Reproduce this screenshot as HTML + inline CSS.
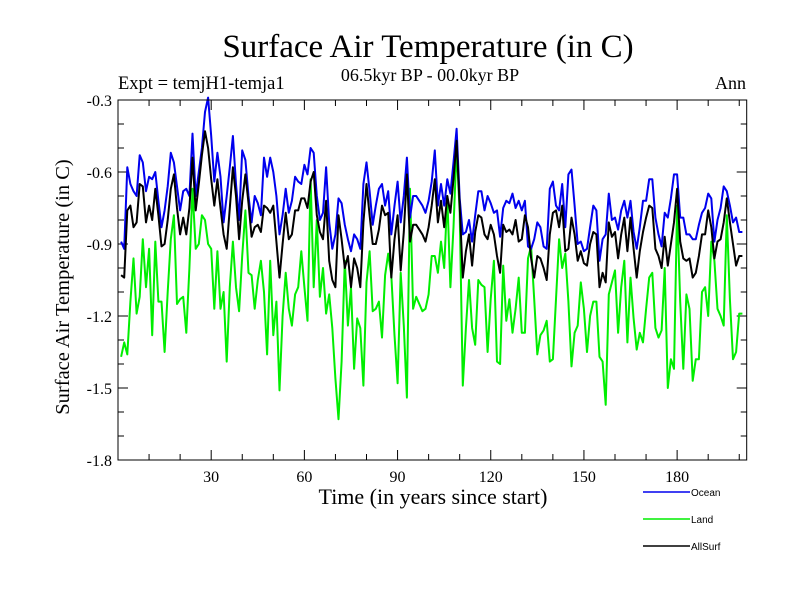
<!DOCTYPE html>
<html><head><meta charset="utf-8"><style>
body{margin:0;background:#fff;}
svg text{font-family:"Liberation Serif",serif;}
</style></head><body>
<svg id="chart" width="800" height="600" xmlns="http://www.w3.org/2000/svg">
<rect width="800" height="600" fill="#fff"/>
<text x="428" y="57" font-size="33" text-anchor="middle">Surface Air Temperature (in C)</text>
<text x="430" y="81" font-size="18" text-anchor="middle">06.5kyr BP - 00.0kyr BP</text>
<text x="118" y="89" font-size="18.5">Expt = temjH1-temja1</text>
<text x="746" y="89" font-size="18" text-anchor="end">Ann</text>
<g id="axes"></g>
<g id="series"></g>
<rect x="118" y="100" width="628.7" height="360" fill="none" stroke="#000" stroke-width="1"/>
<text x="433" y="504" font-size="22" text-anchor="middle">Time (in years since start)</text>
<text transform="translate(69,287) rotate(-90)" font-size="20.5" text-anchor="middle">Surface Air Temperature (in C)</text>
<g id="legend"></g>
</svg>
<script>
const ocean=[-0.89,-0.92,-0.58,-0.65,-0.68,-0.70,-0.53,-0.56,-0.68,-0.62,
-0.63,-0.60,-0.72,-0.83,-0.76,-0.66,-0.52,-0.56,-0.66,-0.76,
-0.68,-0.67,-0.70,-0.44,-0.70,-0.60,-0.50,-0.35,-0.29,-0.45,
-0.64,-0.52,-0.62,-0.81,-0.70,-0.58,-0.45,-0.65,-0.80,-0.51,
-0.55,-0.70,-0.81,-0.70,-0.73,-0.78,-0.54,-0.62,
-0.54,-0.60,-0.70,-0.86,-0.78,-0.67,-0.77,-0.72,-0.62,-0.64,
-0.65,-0.57,-0.61,-0.50,-0.52,-0.70,-0.80,-0.77,-0.58,-0.81,
-0.92,-0.86,-0.71,-0.73,-0.82,-0.88,-0.93,-0.86,-0.88,-0.92,
-0.65,-0.56,-0.68,-0.82,-0.74,-0.67,-0.65,-0.74,-0.68,-0.86,
-0.74,-0.64,-0.81,-0.70,-0.54,-0.79,-0.70,-0.70,-0.72,-0.74,
-0.77,-0.72,-0.64,-0.51,-0.74,-0.65,-0.74,-0.63,-0.69,-0.56,
-0.42,-0.71,-0.86,-0.85,-0.80,-0.89,-0.78,-0.68,-0.68,-0.76,
-0.70,-0.73,-0.77,-0.76,-0.87,-0.75,-0.72,-0.73,-0.69,-0.75,
-0.72,-0.76,-0.72,-0.91,-0.92,-0.88,-0.81,-0.83,-0.91,-0.92,
-0.67,-0.64,-0.74,-0.76,-0.65,-0.83,-0.61,-0.59,-0.74,-0.90,
-0.89,-0.93,-0.92,-0.83,-0.74,-0.76,-0.97,-0.88,-0.86,-0.69,
-0.80,-0.79,-0.84,-0.76,-0.72,-0.79,-0.72,-0.85,-0.92,-0.83,
-0.72,-0.72,-0.63,-0.63,-0.79,-0.86,-0.91,-0.77,-0.79,-0.71,
-0.61,-0.61,-0.79,-0.79,-0.86,-0.86,-0.88,-0.88,-0.82,-0.77,
-0.75,-0.69,-0.71,-0.89,-0.80,-0.75,-0.66,-0.68,-0.74,-0.81,
-0.79,-0.85,-0.85];
const land=[-1.37,-1.31,-1.36,-1.14,-0.96,-1.19,-1.12,-0.88,-1.08,-0.92,
-1.28,-0.89,-1.14,-1.14,-1.35,-1.10,-0.88,-0.78,-1.15,-1.13,
-1.12,-1.27,-1.00,-0.67,-0.92,-0.90,-0.78,-0.80,-0.90,-0.92,
-1.17,-0.93,-1.17,-1.10,-1.39,-1.08,-0.89,-1.08,-1.18,-0.95,
-0.76,-1.02,-1.03,-1.17,-1.05,-0.97,-1.10,
-1.36,-0.97,-1.28,-1.14,-1.51,-1.20,-1.02,-1.17,-1.24,-1.11,
-1.08,-0.93,-1.08,-1.22,-0.63,-1.08,-0.80,-1.12,-1.00,-1.19,
-1.11,-1.25,-1.46,-1.63,-1.39,-0.97,-1.24,-1.08,-1.42,-1.21,
-1.25,-1.49,-1.06,-0.93,-1.18,-1.17,-1.14,-1.29,-1.03,-0.94,
-1.03,-1.28,-1.48,-1.02,-1.24,-1.54,-0.67,-1.17,-1.12,
-1.15,-1.18,
-1.17,-1.11,-0.95,-0.95,-1.02,-0.89,-1.00,-0.70,-1.08,-0.83,
-0.50,-0.77,-1.49,-1.25,-1.05,-1.25,-1.32,-1.05,-1.07,-1.08,
-1.35,-1.13,-0.97,-1.39,-1.40,-0.99,-1.22,-1.13,-1.27,-1.17,
-1.04,-1.27,-1.27,-0.96,-0.91,-1.13,-1.36,-1.28,-1.26,-1.22,
-1.39,-1.38,-1.13,-0.88,-1.00,-0.94,-1.14,-1.41,-1.27,-1.24,
-1.06,-1.17,-1.35,-1.20,-1.14,-1.14,-1.37,-1.39,-1.57,-1.11,
-1.06,-1.01,-1.27,-1.08,-0.97,-1.31,-1.04,-1.21,-1.34,-1.27,
-1.31,-1.17,-1.04,-1.02,-1.25,-1.29,-1.26,-1.00,-1.50,-1.38,
-1.42,-0.74,-1.14,-1.42,-1.11,-1.17,-1.47,-1.38,-1.38,-1.10,
-1.08,-1.20,-0.89,-0.97,-1.17,-1.20,-1.24,-0.78,-1.13,-1.38,
-1.35,-1.19,-1.19];
const allsurf=[-1.03,-1.04,-0.76,-0.74,-0.83,-0.81,-0.65,-0.66,-0.81,-0.74,
-0.80,-0.67,-0.78,-0.91,-0.90,-0.80,-0.67,-0.61,-0.75,-0.86,
-0.79,-0.86,-0.75,-0.54,-0.76,-0.65,-0.53,-0.43,-0.50,-0.63,
-0.74,-0.63,-0.75,-0.86,-0.92,-0.75,-0.58,-0.70,-0.88,-0.72,
-0.61,-0.73,-0.87,-0.83,-0.82,-0.85,-0.74,-0.75,
-0.77,-0.74,-0.89,-1.04,-0.90,-0.77,-0.88,-0.86,-0.76,-0.76,
-0.71,-0.71,-0.75,-0.64,-0.60,-0.78,-0.85,-0.88,-0.72,-0.97,
-1.05,-1.08,-0.78,-0.88,-1.00,-0.95,-1.08,-0.96,-1.00,-1.08,
-0.81,-0.65,-0.78,-0.90,-0.90,-0.84,-0.74,-0.78,-0.77,-1.04,
-0.88,-0.78,-1.01,-0.85,-0.61,-0.89,-0.82,-0.82,-0.84,-0.86,
-0.89,-0.83,-0.74,-0.63,-0.81,-0.72,-0.83,-0.70,-0.77,-0.63,
-0.47,-0.74,-1.04,-0.93,-0.86,-0.99,-0.85,-0.78,-0.79,-0.86,
-0.88,-0.82,-0.86,-0.95,-1.02,-0.82,-0.85,-0.84,-0.86,-0.80,
-0.89,-0.88,-0.78,-0.83,-0.96,-1.04,-0.95,-0.96,-1.00,-1.05,
-0.86,-0.77,-0.76,-0.83,-0.74,-0.93,-0.92,-0.79,-0.86,-0.97,
-0.93,-0.98,-0.99,-0.90,-0.85,-0.86,-1.08,-1.02,-1.06,-0.81,
-0.87,-0.85,-0.96,-0.86,-0.79,-0.93,-0.79,-0.92,-1.04,-0.93,
-0.85,-0.79,-0.74,-0.75,-0.92,-0.95,-1.00,-0.87,-0.99,-0.90,
-0.81,-0.67,-0.89,-0.96,-0.97,-0.96,-1.04,-1.02,-0.95,-0.86,
-0.86,-0.76,-0.83,-0.96,-0.89,-0.88,-0.81,-0.71,-0.81,-0.90,
-0.99,-0.95,-0.95];
const xTickValues=[30,60,90,120,150,180];
const yTickLabels=["-0.3","-0.6","-0.9","-1.2","-1.5","-1.8"];
const seriesNames=["Ocean","Land","AllSurf"];

const NS="http://www.w3.org/2000/svg";
const X0=118,X1=746.7,XMIN=0,XMAX=202.4,Y0=100,Y1=460,YMAX=-0.3,YMIN=-1.8;
function xs(v){return X0+(v-XMIN)/(XMAX-XMIN)*(X1-X0);}
function ys(v){return Y0+(YMAX-v)/(YMAX-YMIN)*(Y1-Y0);}
function mk(t,a,p){const e=document.createElementNS(NS,t);for(const k in a)e.setAttribute(k,a[k]);p.appendChild(e);return e;}
const axes=document.getElementById('axes');
for(let v=10;v<=200;v+=10){
  const major=v%30===0,len=major?10:6,x=xs(v);
  let t=mk('line',{x1:x,x2:x,y1:Y1,y2:Y1-len,stroke:'#000','stroke-width':1},axes);
  
  
  t=mk('line',{x1:x,x2:x,y1:Y0,y2:Y0+len,stroke:'#000','stroke-width':1},axes);
  
  
}
xTickValues.forEach(v=>{
  const t=mk('text',{x:xs(v),y:Y1+22,'font-size':16,'text-anchor':'middle'},axes);
  t.textContent=String(v);
  
  
});
for(let i=0;i<=15;i++){
  const v=YMAX-i*0.1,major=i%3===0,len=major?10:6,y=ys(v);
  let t=mk('line',{x1:X0,x2:X0+len,y1:y,y2:y,stroke:'#000','stroke-width':1},axes);
  
  
  t=mk('line',{x1:X1,x2:X1-len,y1:y,y2:y,stroke:'#000','stroke-width':1},axes);
  
  
}
yTickLabels.forEach(s=>{
  const t=mk('text',{x:X0-6,y:ys(parseFloat(s))+6,'font-size':16,'text-anchor':'end'},axes);
  t.textContent=s;
  
  
});
const sg=document.getElementById('series');
function line(data,color,name){
  const pts=data.map((v,i)=>xs(i+1).toFixed(1)+','+ys(v).toFixed(1)).join(' ');
  const p=mk('polyline',{points:pts,fill:'none',stroke:color,'stroke-width':2,'stroke-linejoin':'round'},sg);
  
  
}
line(land,'#00ee00','land-line');
line(ocean,'#0000ee','ocean-line');
line(allsurf,'#000000','allsurf-line');
const lg=document.getElementById('legend');
const lcolors=['#0000ee','#00ee00','#000000'];
seriesNames.forEach((n,i)=>{
  const y=492+i*27;
  const l=mk('line',{x1:643,x2:690,y1:y,y2:y,stroke:lcolors[i],'stroke-width':1.5},lg);
  
  
  const t=mk('text',{x:691,y:y+4,'font-size':10,style:'font-family:"Liberation Sans",sans-serif'},lg);
  t.textContent=n;
  
  
});
</script>
</body></html>
